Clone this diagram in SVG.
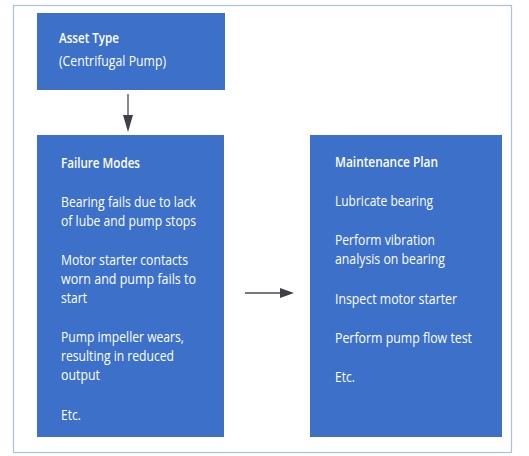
<svg xmlns="http://www.w3.org/2000/svg" width="529" height="456" viewBox="0 0 529 456">
<defs>
<style>
.box{fill:#3c70c9}
.t{font-family:"Open Sans","Liberation Sans",sans-serif;font-size:14.5px;fill:#ffffff}
.h{font-weight:600}
.conn{stroke:#4a4a52;stroke-width:1.3;fill:none}
.head{fill:#3f3f48}
</style>
</defs>
<rect x="0" y="0" width="529" height="456" fill="#ffffff"/>
<rect x="13.5" y="5.5" width="498" height="447" fill="none" stroke="#a9c2de" stroke-width="1.2"/>
<g id="asset-type">
<rect class="box" x="37" y="13" width="188" height="77"/>
<text class="t h" x="59" y="43" textLength="60" lengthAdjust="spacingAndGlyphs">Asset Type</text>
<text class="t" x="59" y="66" textLength="107" lengthAdjust="spacingAndGlyphs">(Centrifugal Pump)</text>
</g>
<g id="failure-modes">
<rect class="box" x="37" y="135" width="187" height="302"/>
<text class="t h" x="61" y="168" textLength="79" lengthAdjust="spacingAndGlyphs">Failure Modes</text>
<text class="t" x="61" y="207" textLength="135" lengthAdjust="spacingAndGlyphs">Bearing fails due to lack</text>
<text class="t" x="61" y="226" textLength="135" lengthAdjust="spacingAndGlyphs">of lube and pump stops</text>
<text class="t" x="61" y="265" textLength="127" lengthAdjust="spacingAndGlyphs">Motor starter contacts</text>
<text class="t" x="61" y="284" textLength="135" lengthAdjust="spacingAndGlyphs">worn and pump fails to</text>
<text class="t" x="61" y="303" textLength="26" lengthAdjust="spacingAndGlyphs">start</text>
<text class="t" x="61" y="342" textLength="123" lengthAdjust="spacingAndGlyphs">Pump impeller wears,</text>
<text class="t" x="61" y="361" textLength="113" lengthAdjust="spacingAndGlyphs">resulting in reduced</text>
<text class="t" x="61" y="380" textLength="39" lengthAdjust="spacingAndGlyphs">output</text>
<text class="t" x="61" y="420" textLength="20" lengthAdjust="spacingAndGlyphs">Etc.</text>
</g>
<g id="maintenance-plan">
<rect class="box" x="310" y="135" width="192" height="302"/>
<text class="t h" x="335" y="167" textLength="103" lengthAdjust="spacingAndGlyphs">Maintenance Plan</text>
<text class="t" x="335" y="206" textLength="98" lengthAdjust="spacingAndGlyphs">Lubricate bearing</text>
<text class="t" x="335" y="245" textLength="100" lengthAdjust="spacingAndGlyphs">Perform vibration</text>
<text class="t" x="335" y="264" textLength="110" lengthAdjust="spacingAndGlyphs">analysis on bearing</text>
<text class="t" x="335" y="304" textLength="122" lengthAdjust="spacingAndGlyphs">Inspect motor starter</text>
<text class="t" x="335" y="343" textLength="137" lengthAdjust="spacingAndGlyphs">Perform pump flow test</text>
<text class="t" x="335" y="382" textLength="20" lengthAdjust="spacingAndGlyphs">Etc.</text>
</g>
<g id="connectors">
<line class="conn" x1="128" y1="94" x2="128" y2="117"/>
<polygon class="head" points="123,115 133,115 128,132"/>
<line class="conn" x1="245" y1="293" x2="282" y2="293"/>
<polygon class="head" points="280,288 280,298 294,293"/>
</g>
</svg>
